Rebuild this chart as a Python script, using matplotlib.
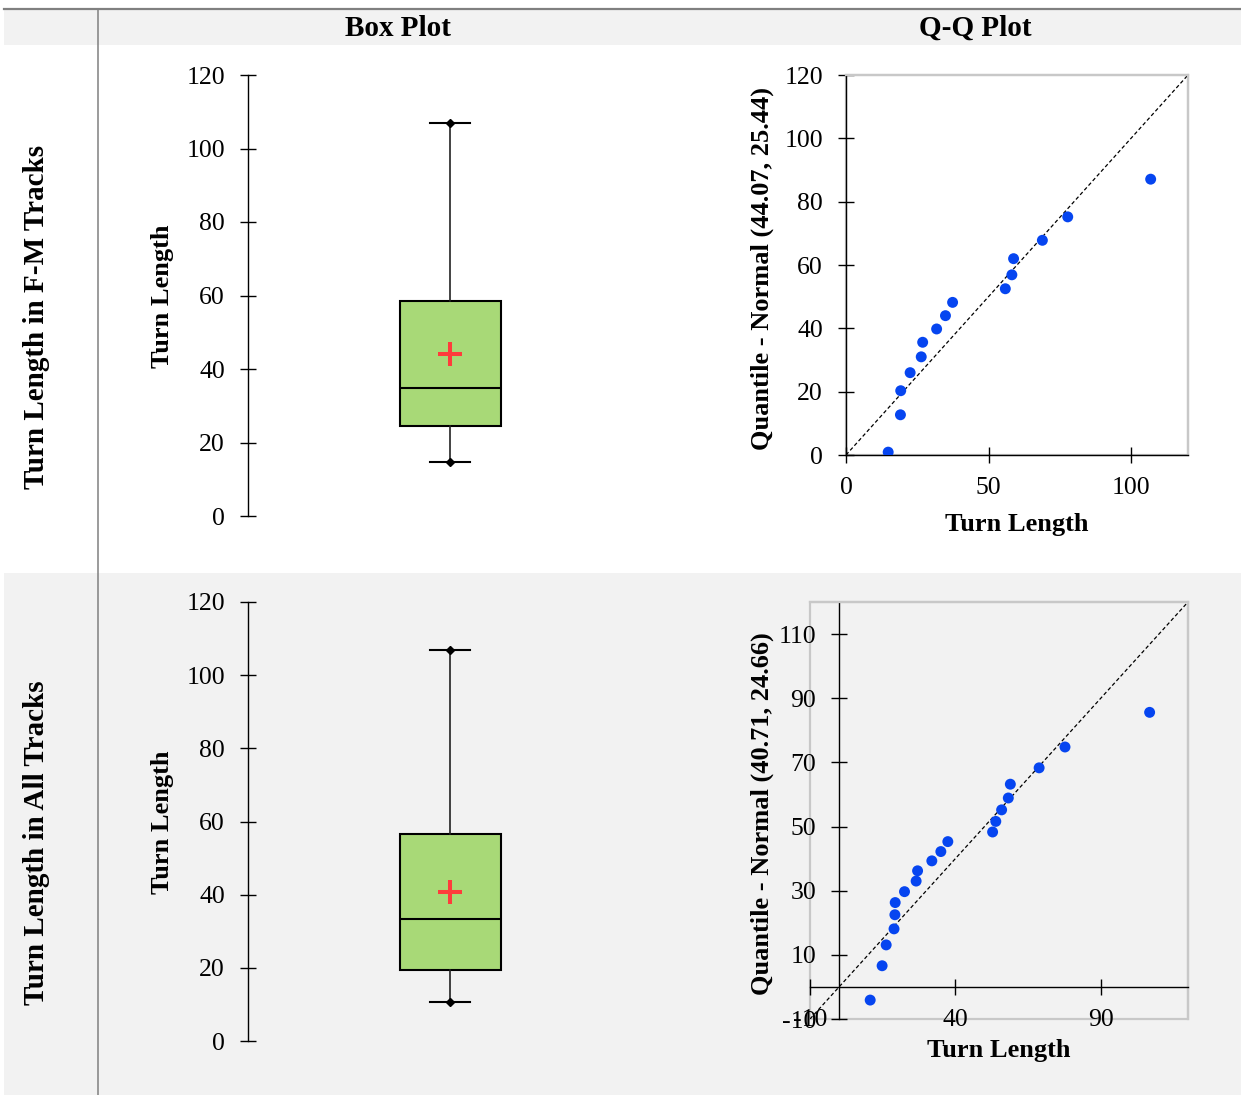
import matplotlib
matplotlib.use('Agg')
import matplotlib.pyplot as plt
from matplotlib.patches import Rectangle
from matplotlib.lines import Line2D

plt.rcParams['font.family'] = ['Liberation Serif', 'DejaVu Serif']
plt.rcParams['axes.unicode_minus'] = False

# ---------------- data ----------------
col_headers = ['Box Plot', 'Q-Q Plot']
row_labels = ['Turn Length in F-M Tracks', 'Turn Length in All Tracks']

fm_turn_length = [14.8, 19.1, 19.2, 22.5, 26.4, 26.9, 31.8, 34.9, 37.4,
                  55.9, 58.2, 58.8, 68.9, 77.8, 106.9]
fm_normal_quantile = [0.9, 12.7, 20.3, 26.0, 31.0, 35.6, 39.8, 44.0, 48.2,
                      52.5, 56.9, 62.0, 67.8, 75.2, 87.1]

all_turn_length = [10.7, 14.8, 16.2, 18.9, 19.2, 19.3, 22.5, 26.5, 27.0, 31.9,
                   35.0, 37.4, 52.8, 53.9, 55.9, 58.2, 58.9, 68.8, 77.7, 106.8]
all_normal_quantile = [-4.1, 6.6, 13.1, 18.1, 22.5, 26.3, 29.7, 33.0, 36.2, 39.3,
                       42.2, 45.3, 48.3, 51.6, 55.2, 58.9, 63.2, 68.3, 74.8, 85.6]

qq_ylabels = ['Quantile - Normal (44.07, 25.44)', 'Quantile - Normal (40.71, 24.66)']
box_ylabel = 'Turn Length'
qq_xlabel = 'Turn Length'

box_yticks = [0, 20, 40, 60, 80, 100, 120]
qq_top_xticks = [0, 50, 100]
qq_top_yticks = [0, 20, 40, 60, 80, 100, 120]
qq_bot_xticks = [-10, 40, 90]
qq_bot_yticks = [-10, 10, 30, 50, 70, 90, 110]

# ---------------- layout helpers ----------------
W, H, DPI = 1241, 1095, 100
fig = plt.figure(figsize=(W / DPI, H / DPI), dpi=DPI)
fig.patch.set_facecolor('white')


def fx(px):
    return px / W


def fy(py):
    return 1 - py / H


def add_ax(left, top, right, bottom):
    ax = fig.add_axes([left / W, 1 - bottom / H, (right - left) / W, (bottom - top) / H])
    ax.set_zorder(2)
    return ax


GRAY_BG = '#f2f2f2'
LINE_GRAY = '#808080'
FRAME_GRAY = '#c8c8c8'
BOX_GREEN = '#a8d977'
MEAN_RED = '#ff3b3b'
DOT_BLUE = '#0645f0'

# backgrounds
fig.patches.append(Rectangle((fx(4), fy(45)), fx(1241) - fx(4), fy(10) - fy(45),
                             transform=fig.transFigure, facecolor=GRAY_BG, edgecolor='none', zorder=-5))
fig.patches.append(Rectangle((fx(4), fy(1095)), fx(1241) - fx(4), fy(573) - fy(1095),
                             transform=fig.transFigure, facecolor=GRAY_BG, edgecolor='none', zorder=-5))
fig.lines.append(Line2D([fx(4), fx(1241)], [fy(9), fy(9)], transform=fig.transFigure,
                        color=LINE_GRAY, lw=1.6, zorder=-1))
fig.lines.append(Line2D([fx(98), fx(98)], [fy(9), fy(1095)], transform=fig.transFigure,
                        color=LINE_GRAY, lw=1.1, zorder=-1))

# headers and row labels
fig.text(fx(398), fy(28), col_headers[0], ha='center', va='center', fontsize=21, fontweight='bold')
fig.text(fx(975), fy(28), col_headers[1], ha='center', va='center', fontsize=21, fontweight='bold')
fig.text(fx(37), fy(317), row_labels[0], ha='center', va='center', rotation=90,
         fontsize=21, fontweight='bold')
fig.text(fx(37), fy(843), row_labels[1], ha='center', va='center', rotation=90,
         fontsize=21, fontweight='bold')


def style_ticks(ax):
    ax.tick_params(axis='both', direction='inout', length=11, width=1.0,
                   labelsize=18.5, colors='black')
    ax.tick_params(axis='x', pad=10.5)
    ax.tick_params(axis='y', pad=11)


def box_panel(left, top, right, bottom, data, ylabel_y):
    ax = add_ax(left, top, right, bottom)
    ax.patch.set_alpha(0)
    ax.boxplot([data], positions=[1], widths=0.25, whis=(0, 100), showmeans=True,
               patch_artist=True, showfliers=False, capwidths=0.1,
               boxprops=dict(facecolor=BOX_GREEN, edgecolor='black', linewidth=1.5),
               medianprops=dict(color='black', linewidth=1.5),
               whiskerprops=dict(color='#222222', linewidth=1.2),
               capprops=dict(color='black', linewidth=1.5),
               meanprops=dict(marker='+', markeredgecolor=MEAN_RED, markerfacecolor=MEAN_RED,
                              markersize=17, markeredgewidth=2.9))
    ax.plot([1, 1], [min(data), max(data)], linestyle='none', marker='D',
            markersize=4.5, color='black', zorder=4)
    ax.set_xlim(0.5, 1.5)
    ax.set_ylim(0, 120)
    ax.set_yticks(box_yticks)
    ax.set_xticks([])
    for s in ['top', 'right', 'bottom']:
        ax.spines[s].set_visible(False)
    ax.spines['left'].set_linewidth(1.0)
    style_ticks(ax)
    fig.text(fx(162), fy(ylabel_y), box_ylabel, ha='center', va='center', rotation=90,
             fontsize=19, fontweight='bold')
    return ax


def qq_panel(left, top, right, bottom, x, y, xlim, ylim, xticks, yticks, ylabel, face):
    ax = add_ax(left, top, right, bottom)
    if face == 'none':
        ax.patch.set_alpha(0)
    else:
        ax.patch.set_facecolor(face)
    ax.add_patch(Rectangle((0, 0), 1, 1, transform=ax.transAxes, fill=False,
                           edgecolor=FRAME_GRAY, linewidth=1.6, zorder=0.5, clip_on=False))
    ax.axline((0, 0), slope=1, color='black', linewidth=0.9, dashes=(3, 2), zorder=2)
    ax.scatter(x, y, s=62, color=DOT_BLUE, edgecolors='none', zorder=3)
    ax.set_xlim(*xlim)
    ax.set_ylim(*ylim)
    ax.set_xticks(xticks)
    ax.set_yticks(yticks)
    for s in ['left', 'bottom']:
        ax.spines[s].set_position(('data', 0))
        ax.spines[s].set_color('black')
        ax.spines[s].set_linewidth(1.0)
        ax.spines[s].set_zorder(2.5)
    for s in ['top', 'right']:
        ax.spines[s].set_color(FRAME_GRAY)
        ax.spines[s].set_linewidth(1.6)
    style_ticks(ax)
    cy = (top + bottom) / 2
    fig.text(fx(762), fy(cy + 3), ylabel, ha='center', va='center', rotation=90,
             fontsize=19, fontweight='bold')
    return ax


# Row 1
box_panel(248, 75, 652, 516, fm_turn_length, 296)
qq_panel(846, 75, 1188, 455, fm_turn_length, fm_normal_quantile, (0, 120), (0, 120),
         qq_top_xticks, qq_top_yticks, qq_ylabels[0], 'white')
fig.text(fx(1017), fy(525), qq_xlabel, ha='center', va='center', fontsize=19, fontweight='bold')

# Row 2
box_panel(248, 602, 652, 1041, all_turn_length, 822)
qq_panel(810, 602, 1188, 1019, all_turn_length, all_normal_quantile, (-10, 120), (-10, 120),
         qq_bot_xticks, qq_bot_yticks, qq_ylabels[1], 'none')
fig.text(fx(999), fy(1051), qq_xlabel, ha='center', va='center', fontsize=19, fontweight='bold')

fig.savefig('out.png', dpi=DPI)
